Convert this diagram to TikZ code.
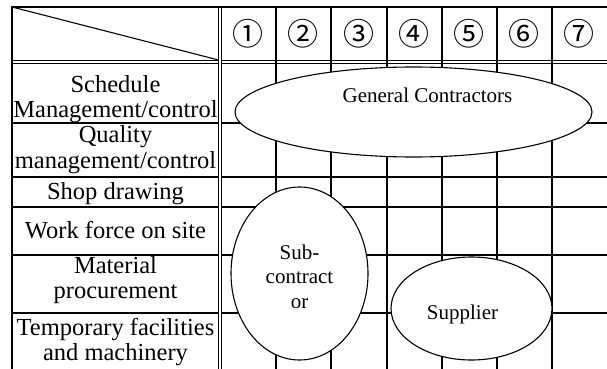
\documentclass[tikz,border=0pt]{standalone}
\usepackage{fontspec}
\setmainfont{Liberation Serif}
\newfontfamily\circfont{Noto Sans CJK JP}
\usetikzlibrary{shapes.geometric}
\begin{document}
\begin{tikzpicture}[x=1pt,y=-1pt,
  gridline/.style={line width=1.2pt},
  borderline/.style={line width=2.4pt},
  dline/.style={line width=0.9pt},
  role/.style={ellipse, draw, line width=1.1pt, fill=white, inner sep=0pt},
  rowlabel/.style={font=\fontsize{24.5}{25}\selectfont, anchor=base, inner sep=0pt},
  roletext/.style={font=\fontsize{21}{24.5}\selectfont, anchor=base, inner sep=0pt},
  colnum/.style={font=\circfont\fontsize{31}{31}\selectfont, inner sep=0pt}]

\useasboundingbox (0,0) rectangle (607,369);

% grid: row lines
\foreach \yy in {123,177,207,255,313}{
  \draw[gridline] (12,\yy) -- (218.5,\yy);
  \draw[gridline] (221.5,\yy) -- (607,\yy);
}
% column lines
\foreach \xx in {276,331,387,442,497,552}{
  \draw[gridline] (\xx,7) -- (\xx,369);
}
% header double line
\foreach \yy in {60,63}{
  \draw[dline] (12,\yy) -- (218.5,\yy);
  \draw[dline] (221.5,\yy) -- (607,\yy);
}
% first column double line
\draw[dline] (218.5,7) -- (218.5,369);
\draw[dline] (221.5,7) -- (221.5,369);
% diagonal
\draw[line width=1.1pt] (12,7) -- (218.5,60);
% outer border
\draw[borderline] (12,369) -- (12,7) -- (607,7);

% header numbers
\node[colnum] (c1) at (248,34) {①};
\node[colnum] (c2) at (303,34) {②};
\node[colnum] (c3) at (358.5,34) {③};
\node[colnum] (c4) at (414,34) {④};
\node[colnum] (c5) at (469,34) {⑤};
\node[colnum] (c6) at (524,34) {⑥};
\node[colnum] (c7) at (579,34) {⑦};

% row labels
\node[rowlabel] (r1a) at (115.5,92) {Schedule};
\node[rowlabel] (r1b) at (115.5,117) {Management/control};
\node[rowlabel] (r2a) at (115.5,142) {Quality};
\node[rowlabel] (r2b) at (115.5,168) {management/control};
\node[rowlabel] (r3) at (115.5,199) {Shop drawing};
\node[rowlabel] (r4) at (115.5,238) {Work force on site};
\node[rowlabel] (r5a) at (115.5,273) {Material};
\node[rowlabel] (r5b) at (115.5,298) {procurement};
\node[rowlabel] (r6a) at (115.5,335) {Temporary facilities};
\node[rowlabel] (r6b) at (115.5,360) {and machinery};

% role ellipses
\node[role, minimum width=357pt, minimum height=90pt] (gc) at (413.5,112) {};
\node[role, minimum width=137pt, minimum height=173pt] (sub) at (299.5,273.5) {};
\node[role, minimum width=161pt, minimum height=103pt] (sup) at (471.5,308.5) {};

\node[roletext] (gctext) at (427.5,102) {General Contractors};
\node[roletext] (subtext1) at (299.5,259) {Sub-};
\node[roletext] (subtext2) at (299.5,283.5) {contract};
\node[roletext] (subtext3) at (299.5,308) {or};
\node[roletext] (suptext) at (462.5,319) {Supplier};
\end{tikzpicture}
\end{document}
